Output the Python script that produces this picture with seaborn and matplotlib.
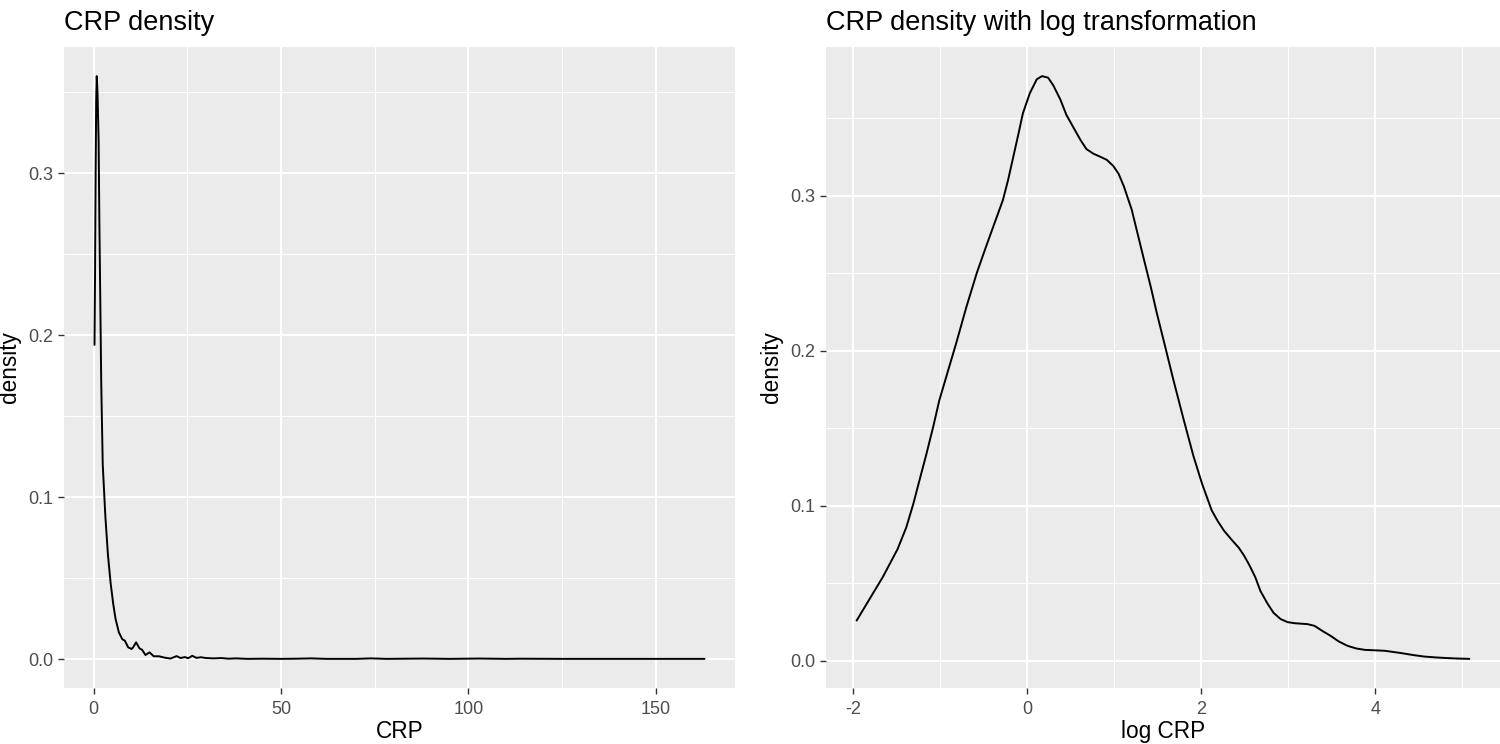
import numpy as np
import pandas as pd
import matplotlib
matplotlib.use("Agg")
import matplotlib.pyplot as plt
import seaborn as sns
from matplotlib.ticker import FixedLocator

# ---- data ----
crp_x = [0.2, 0.35, 0.5, 0.65, 0.8, 1.0, 1.3, 1.5, 1.7, 2.0, 2.4, 3.1, 3.8, 4.5,
         5.2, 5.8, 6.7, 7.6, 8.3, 9.2, 10.1, 10.5, 11.3, 12.2, 12.9, 13.8, 14.9,
         16.0, 17.4, 19.0, 20.5, 22.1, 23.2, 24.3, 25.2, 26.3, 27.4, 28.6, 30,
         32, 34, 36, 38, 41, 45, 50, 54, 58, 62, 70, 74, 78, 88, 95, 103, 110,
         114, 125, 140, 150, 163]
crp_density = [0.194, 0.24, 0.30, 0.345, 0.36, 0.35, 0.32, 0.27, 0.23, 0.17,
               0.12, 0.088, 0.064, 0.047, 0.034, 0.025, 0.0165, 0.0123, 0.0113,
               0.0072, 0.0062, 0.0072, 0.0103, 0.0066, 0.0057, 0.0025, 0.0041,
               0.0017, 0.0017, 0.0008, 0.0003, 0.0018, 0.0006, 0.0012, 0.0005,
               0.0020, 0.0007, 0.0011, 0.0006, 0.0004, 0.0006, 0.0002, 0.0004,
               0.0001, 0.0002, 0.0001, 0.0002, 0.0004, 0.0001, 0.0001, 0.0004,
               0.0001, 0.0003, 0.0001, 0.0003, 0.0001, 0.0002, 0.0001, 0.0001,
               0.0001, 0.0001]

logcrp_x = [-1.96, -1.81, -1.66, -1.49, -1.39, -1.31, -1.24, -1.16, -1.08, -1.01,
            -0.91, -0.81, -0.70, -0.58, -0.48, -0.39, -0.28, -0.22, -0.16, -0.10,
            -0.05, 0.03, 0.11, 0.17, 0.24, 0.30, 0.38, 0.45, 0.53, 0.61, 0.68,
            0.76, 0.84, 0.915, 0.99, 1.05, 1.11, 1.20, 1.27, 1.34, 1.42, 1.49,
            1.57, 1.68, 1.80, 1.91, 2.01, 2.12, 2.19, 2.26, 2.35, 2.43, 2.49,
            2.55, 2.62, 2.68, 2.76, 2.83, 2.91, 2.99, 3.07, 3.14, 3.22, 3.30,
            3.40, 3.49, 3.58, 3.68, 3.78, 3.88, 4.00, 4.11, 4.20, 4.30, 4.43,
            4.56, 4.70, 4.83, 4.95, 5.08]
logcrp_density = [0.026, 0.040, 0.054, 0.072, 0.086, 0.101, 0.116, 0.133, 0.151,
                  0.168, 0.187, 0.206, 0.228, 0.250, 0.266, 0.280, 0.297, 0.310,
                  0.325, 0.340, 0.353, 0.366, 0.375, 0.377, 0.376, 0.371, 0.362,
                  0.352, 0.344, 0.336, 0.330, 0.327, 0.325, 0.323, 0.319, 0.314,
                  0.306, 0.291, 0.275, 0.259, 0.241, 0.224, 0.206, 0.181, 0.155,
                  0.132, 0.114, 0.097, 0.090, 0.084, 0.078, 0.073, 0.068, 0.062,
                  0.054, 0.045, 0.037, 0.031, 0.027, 0.025, 0.0243, 0.024, 0.0237,
                  0.0226, 0.019, 0.016, 0.0125, 0.0097, 0.008, 0.0071, 0.0068,
                  0.0065, 0.0058, 0.005, 0.0038, 0.0028, 0.0022, 0.0018, 0.0015,
                  0.0013]

titles = ["CRP density", "CRP density with log transformation"]
xlabels = ["CRP", "log CRP"]
ylabel = "density"
left_xmajor = [0, 50, 100, 150]
left_xminor = [25, 75, 125]
right_xmajor = [-2, 0, 2, 4]
right_xminor = [-1, 1, 3, 5]
ymajor = [0.0, 0.1, 0.2, 0.3]
yminor = [0.05, 0.15, 0.25, 0.35]
ytick_labels = ["0.0", "0.1", "0.2", "0.3"]

# ---- style ----
sns.set_theme(style="darkgrid")
plt.rcParams["font.family"] = ["Liberation Sans", "DejaVu Sans"]
plt.rcParams["axes.facecolor"] = "#EBEBEB"

W, H = 1500, 744
fig = plt.figure(figsize=(15, 7.44), dpi=100)
ax1 = fig.add_axes([64 / W, 56 / H, 671 / W, 641 / H])
ax2 = fig.add_axes([826 / W, 56 / H, 674 / W, 641 / H])

df1 = pd.DataFrame({"x": crp_x, "density": crp_density})
df2 = pd.DataFrame({"x": logcrp_x, "density": logcrp_density})

sns.lineplot(data=df1, x="x", y="density", ax=ax1, color="black", linewidth=1.4,
             sort=False, estimator=None)
sns.lineplot(data=df2, x="x", y="density", ax=ax2, color="black", linewidth=1.4,
             sort=False, estimator=None)

for ax, xmaj, xmin, title, xl in [(ax1, left_xmajor, left_xminor, titles[0], xlabels[0]),
                                  (ax2, right_xmajor, right_xminor, titles[1], xlabels[1])]:
    ax.set_facecolor("#EBEBEB")
    ax.margins(x=0.05, y=0.05)
    ax.xaxis.set_major_locator(FixedLocator(xmaj))
    ax.xaxis.set_minor_locator(FixedLocator(xmin))
    ax.yaxis.set_major_locator(FixedLocator(ymajor))
    ax.yaxis.set_minor_locator(FixedLocator(yminor))
    ax.set_xticklabels([str(v) for v in xmaj])
    ax.set_yticklabels(ytick_labels)
    ax.grid(which="major", color="white", linewidth=1.45)
    ax.grid(which="minor", color="white", linewidth=0.75)
    ax.set_axisbelow(True)
    for s in ax.spines.values():
        s.set_visible(False)
    ax.tick_params(which="major", bottom=True, left=True, length=4.4, width=1.0,
                   color="#333333", labelsize=13, labelcolor="#4D4D4D")
    ax.tick_params(axis="x", which="major", pad=5)
    ax.tick_params(axis="y", which="major", pad=3.5)
    ax.tick_params(which="minor", length=0)
    ax.set_xlabel(xl, fontsize=16.3, color="black")
    ax.set_ylabel(ylabel, fontsize=16.3, color="black")
    ax.xaxis.set_label_coords(0.5, -0.05)
    ax.yaxis.set_label_coords(-43 / ax.get_position().width / W, 0.5)
    pos = ax.get_position()
    fig.text(pos.x0, 1 - 30 / H, title, fontsize=19.5, color="black",
             ha="left", va="baseline")

fig.savefig("out.png", dpi=100)
